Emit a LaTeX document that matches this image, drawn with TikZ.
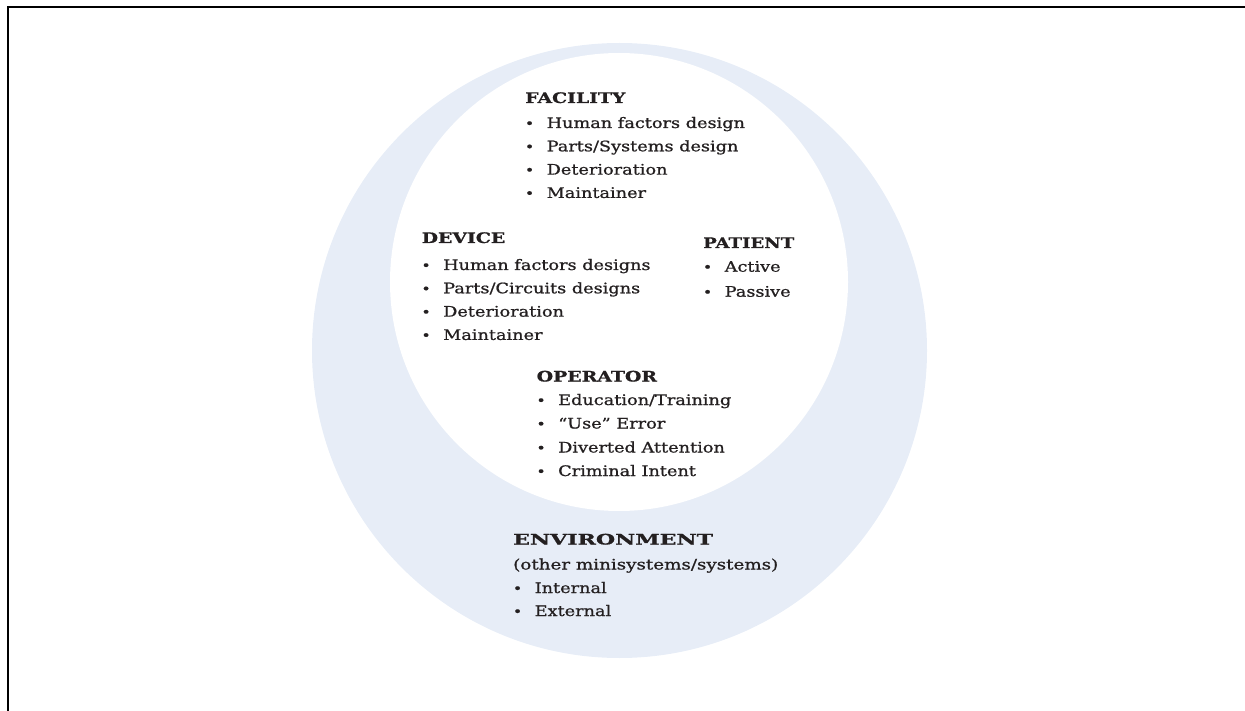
\documentclass[tikz,border=0pt]{standalone}
\usepackage{fontspec}
\usepackage{graphicx}
\setmainfont{DejaVu Serif}[FakeStretch=1.22, FakeBold=0.9,
  BoldFeatures={FakeStretch=1.3}]
\definecolor{ringblue}{HTML}{E7EDF7}
\definecolor{ink}{HTML}{231F20}
\newcommand{\itm}{\makebox[21.5pt][l]{\hspace{-0.3pt}{\fontsize{13}{13}\selectfont\textbullet}}}
\newcommand{\hd}[1]{\textbf{#1}}
\tikzset{
  blk/.style={anchor=base west, inner sep=0pt, text=ink,
    font=\fontsize{14.5}{23.5}\selectfont},
  disc/.style={circle, inner sep=0pt, draw=none},
}
\begin{document}
\begin{tikzpicture}[x=1pt,y=-1pt]
\useasboundingbox (0,0) rectangle (1245,711);
\node[disc, fill=ringblue, minimum size=615pt] (outer) at (619.5,350.5) {};
\node[disc, fill=white, minimum size=458pt] (inner) at (619,282) {};
\coordinate (fb) at (8,711);
\coordinate (fc) at (8,7);
\coordinate (fr) at (1245,7);
\draw[line width=2pt, line cap=rect] (fb) -- (fc) -- (fr);

\node[blk] (facility) at (525,103) {\begin{tabular}[t]{@{}l@{}}
\hd{FACILITY}\\[1.5pt]
\itm Human factors design\\[-0.2pt]
\itm Parts/Systems design\\[-0.2pt]
\itm Deterioration\\[-0.2pt]
\itm Maintainer
\end{tabular}};

\node[blk] (device) at (421.5,243) {\begin{tabular}[t]{@{}l@{}}
\hd{DEVICE}\\[3.5pt]
\itm Human factors designs\\[-0.2pt]
\itm Parts/Circuits designs\\[-0.2pt]
\itm Deterioration\\[-0.2pt]
\itm Maintainer
\end{tabular}};

\node[blk] (patient) at (703,248) {\begin{tabular}[t]{@{}l@{}}
\scalebox{0.96}[1]{\hd{PATIENT}}\\[0.2pt]
\itm Active\\[1.5pt]
\itm Passive
\end{tabular}};

\node[blk] (operator) at (536.5,381.5) {\begin{tabular}[t]{@{}l@{}}
\hd{OPERATOR}\\[0pt]
\itm Education/Training\\[0pt]
\itm ``Use'' Error\\[0.5pt]
\itm Diverted Attention\\[0pt]
\itm Criminal Intent
\end{tabular}};

\node[blk] (environment) at (513,544.5) {\begin{tabular}[t]{@{}l@{}}
\scalebox{1.17}[1]{\hd{ENVIRONMENT}}\\[1.5pt]
\scalebox{1.035}[1]{(other minisystems/systems)}\\[0pt]
\itm Internal\\[-0.5pt]
\itm External
\end{tabular}};
\end{tikzpicture}
\end{document}
